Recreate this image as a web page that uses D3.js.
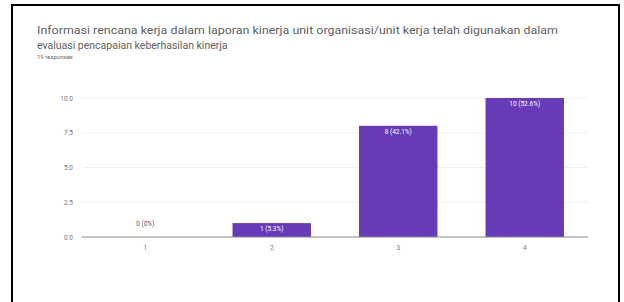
<!DOCTYPE html>
<html><head><meta charset="utf-8">
<script src="https://cdn.jsdelivr.net/npm/d3@7"></script>
<style>html,body{margin:0;padding:0;background:#fff;}</style>
</head><body>
<script>
const categories = ["1", "2", "3", "4"];
const values = [0, 1, 8, 10];
const labels = ["0 (0%)", "1 (5.3%)", "8 (42.1%)", "10 (52.6%)"];
const yTicks = [0, 2.5, 5, 7.5, 10];
const titleLines = ["Informasi rencana kerja dalam laporan kinerja unit organisasi/unit kerja telah digunakan dalam", "evaluasi pencapaian keberhasilan kinerja"];
const responsesText = "19 responses";

const W = 624, H = 302;
const svg = d3.select("body").append("svg").attr("width", W).attr("height", H);
svg.append("rect").attr("width", W).attr("height", H).attr("fill", "#fff");

// frame
svg.append("line").attr("x1", 12).attr("x2", 12).attr("y1", 5).attr("y2", H).attr("stroke", "#000").attr("stroke-width", 2);
svg.append("line").attr("x1", 619).attr("x2", 619).attr("y1", 5).attr("y2", H).attr("stroke", "#000").attr("stroke-width", 2);
svg.append("line").attr("x1", 11).attr("x2", 620).attr("y1", 5).attr("y2", 5).attr("stroke", "#000").attr("stroke-width", 2);

const font = "Roboto, 'Noto Sans', Arial, sans-serif";
svg.append("text").attr("x", 37).attr("y", 34).text(titleLines[0])
  .attr("font-family", font).attr("font-size", 10.5).attr("fill", "#606060")
  .attr("textLength", 521).attr("lengthAdjust", "spacingAndGlyphs");
svg.append("text").attr("x", 37).attr("y", 49).text(titleLines[1])
  .attr("font-family", font).attr("font-size", 10.5).attr("fill", "#606060");
svg.append("text").attr("x", 37).attr("y", 59).text(responsesText)
  .attr("font-family", font).attr("font-size", 6).attr("fill", "#666");

const x = d3.scaleBand().domain(categories).range([82, 588]).paddingInner(0.38).paddingOuter(0.19);
const y = d3.scaleLinear().domain([0, 10]).range([237, 98]);

// grid
svg.append("g").selectAll("line").data(yTicks.filter(t => t > 0)).join("line")
  .attr("x1", 82).attr("x2", 588).attr("y1", d => y(d)).attr("y2", d => y(d))
  .attr("stroke", "#efefef").attr("stroke-width", 1);

// y axis
const yAxis = svg.append("g").attr("transform", "translate(82,0)")
  .call(d3.axisLeft(y).tickValues(yTicks).tickFormat(d3.format(".1f")).tickSize(0).tickPadding(9));
yAxis.select(".domain").remove();
yAxis.selectAll("text").attr("font-family", font).attr("font-size", 6.5).attr("fill", "#777");

// bars
svg.append("g").selectAll("rect").data(values).join("rect")
  .attr("x", (d, i) => x(categories[i])).attr("width", x.bandwidth())
  .attr("y", d => y(d)).attr("height", d => y(0) - y(d))
  .attr("fill", "#673ab7");

// baseline
svg.append("line").attr("x1", 82).attr("x2", 588).attr("y1", y(0)).attr("y2", y(0))
  .attr("stroke", "#888").attr("stroke-width", 1);

// x axis
const xAxis = svg.append("g").attr("transform", `translate(0,${y(0)})`)
  .call(d3.axisBottom(x).tickSize(0).tickPadding(8));
xAxis.select(".domain").remove();
xAxis.selectAll("text").attr("font-family", font).attr("font-size", 6.5).attr("fill", "#777");

// value labels
svg.append("g").selectAll("text").data(values).join("text")
  .attr("x", (d, i) => x(categories[i]) + x.bandwidth() / 2)
  .attr("y", d => d >= 1 ? y(d) + 8 : y(d) - 11)
  .attr("text-anchor", "middle")
  .attr("font-family", font).attr("font-size", 6.5)
  .attr("fill", d => d >= 1 ? "#fff" : "#555")
  .text((d, i) => labels[i]);
</script>
</body></html>
